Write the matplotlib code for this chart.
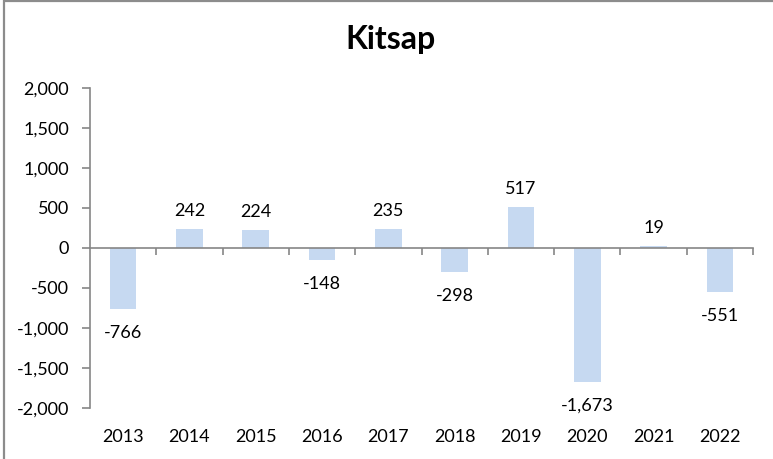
import matplotlib
matplotlib.use("Agg")
import matplotlib.pyplot as plt
from matplotlib.patches import Rectangle
from matplotlib.ticker import FuncFormatter, FixedLocator

years = ["2013", "2014", "2015", "2016", "2017", "2018", "2019", "2020", "2021", "2022"]
values = [-766, 242, 224, -148, 235, -298, 517, -1673, 19, -551]
title = "Kitsap"
yticks = [-2000, -1500, -1000, -500, 0, 500, 1000, 1500, 2000]

plt.rcParams['font.family'] = ['Lato', 'DejaVu Sans']
bar_color = "#C6D9F1"
axis_color = "#868686"
fs = 13

fig = plt.figure(figsize=(7.73, 4.59), dpi=100)
ax = fig.add_axes([90/773, 1 - 408/459, (753 - 90)/773, (408 - 88)/459])

x = list(range(len(years)))
ax.bar(x, values, width=0.4, color=bar_color, zorder=2)

ax.set_xlim(-0.5, len(years) - 0.5)
ax.set_ylim(-2000, 2000)
ax.set_yticks(yticks)
ax.yaxis.set_major_formatter(FuncFormatter(lambda v, p: f"{int(v):,}"))
ax.tick_params(axis='y', direction='out', length=6, width=1.2, color=axis_color,
               labelsize=fs, pad=9, labelcolor='black')

for s in ['top', 'right']:
    ax.spines[s].set_visible(False)
ax.spines['left'].set_color(axis_color)
ax.spines['left'].set_linewidth(1.2)
ax.spines['bottom'].set_position(('data', 0))
ax.spines['bottom'].set_color(axis_color)
ax.spines['bottom'].set_linewidth(1.2)

ax.set_xticks(x)
ax.xaxis.set_minor_locator(FixedLocator([i + 0.5 for i in x]))
ax.tick_params(axis='x', which='major', length=0, labelbottom=False)
ax.tick_params(axis='x', which='minor', direction='out', length=5, width=1.2, color=axis_color)

sec = ax.secondary_xaxis(0.0)
sec.set_xticks(x)
sec.set_xticklabels(years)
sec.tick_params(axis='x', length=0, labelsize=fs, pad=21 * 0.72, labelcolor='black')
sec.spines['bottom'].set_visible(False)

for xi, v in zip(x, values):
    if v >= 0:
        ax.annotate(f"{v:,}", (xi, v), xytext=(0, 18 * 0.72), textcoords='offset points',
                    ha='center', va='center', fontsize=fs, color='black')
    else:
        ax.annotate(f"{v:,}", (xi, v), xytext=(0, -24 * 0.72), textcoords='offset points',
                    ha='center', va='center', fontsize=fs, color='black')

fig.text(391/773, 1 - 40/459, title, ha='center', va='center', fontsize=23,
         fontweight='bold', color='black')

fig.patches.append(Rectangle((4/773, -0.1), 1.2, 1 - 1.5/459 + 0.1,
                             transform=fig.transFigure, fill=False,
                             edgecolor='#8C8C8C', linewidth=1.6))

fig.savefig("out.png", dpi=100)
